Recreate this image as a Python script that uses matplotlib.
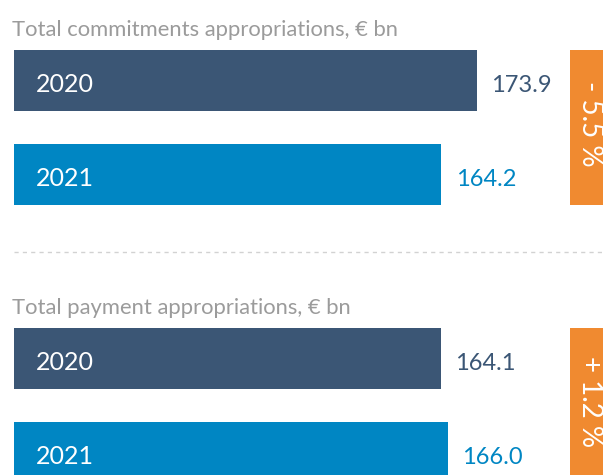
import matplotlib.pyplot as plt
from matplotlib.patches import Rectangle

plt.rcParams['font.family'] = ['Lato', 'DejaVu Sans']

# data
panel_titles = ['Total commitments appropriations, \u20ac bn',
                'Total payment appropriations, \u20ac bn']
years = ['2020', '2021']
commitments = [173.9, 164.2]
payments = [164.1, 166.0]
changes = ['- 5.5 %', '+ 1.2 %']

# style
dark = '#3b5675'
light = '#0086c3'
orange = '#f08a30'
grey = '#9b9b9b'
base = 47.8          # the bars start at this value (truncated axis)
px_per_unit = 3.67
W, H = 603, 475

fig = plt.figure(figsize=(W / 100, H / 100), dpi=100)
ax = fig.add_axes([0, 0, 1, 1])
ax.set_xlim(base - 14 / px_per_unit, base + (W - 14) / px_per_unit)
ax.set_ylim(H, 0)
ax.axis('off')

yt = ax.get_yaxis_transform()  # x in axes fraction, y in data
bar_h = 61
panel_tops = [50, 328]
for top, title, vals, chg in zip(panel_tops, panel_titles, [commitments, payments], changes):
    centers = [top + bar_h / 2, top + bar_h / 2 + 94]
    ax.barh(centers, [v - base for v in vals], left=base, height=bar_h,
            color=[dark, light], edgecolor='none')
    for c, v, yr, col in zip(centers, vals, years, [dark, light]):
        ax.text(36 / W, c + 11, yr, transform=yt, color='white',
                fontsize=18, va='baseline', ha='left')
        ax.annotate(f'{v:.1f}', (v, c + 11), xytext=(10.4, 0),
                    textcoords='offset points', color=col, fontsize=17,
                    va='baseline', ha='left')
    ax.text(12 / W, top - 14, title, transform=yt, color=grey,
            fontsize=15.8, va='baseline', ha='left')
    box_bottom = centers[1] + bar_h / 2
    ax.add_patch(Rectangle((570 / W, top), 0.1, box_bottom - top,
                           transform=yt, facecolor=orange, edgecolor='none',
                           clip_on=False))
    ax.text(590 / W, (top + box_bottom) / 2 - 4, chg, transform=yt,
            color='white', fontsize=20, rotation=-90,
            va='center', ha='center', rotation_mode='anchor')

ax.plot([14 / W, 1], [252, 252], transform=yt, color='#d2d2d2',
        lw=1, ls=(0, (3, 3)))

fig.savefig('out.png', dpi=100)
